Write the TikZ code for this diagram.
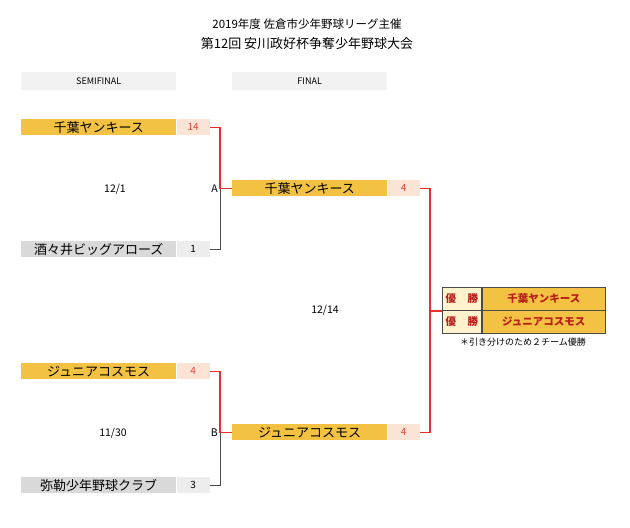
\documentclass[tikz,border=0pt]{standalone}
\usepackage{fontspec}
\setmainfont{Noto Sans CJK JP}
\usetikzlibrary{calc,positioning}
\definecolor{gold}{HTML}{F4C242}
\definecolor{ptpeach}{HTML}{FBE4D6}
\definecolor{ptred}{HTML}{E8473B}
\definecolor{losegray}{HTML}{D9D9D9}
\definecolor{ptgray}{HTML}{EDEDED}
\definecolor{headgray}{HTML}{F2F2F2}
\definecolor{cream}{HTML}{FFF2CC}
\definecolor{winred}{HTML}{B81D18}
\definecolor{linered}{HTML}{E8302A}
\definecolor{linegray}{HTML}{4A4A4A}

\begin{document}
\begin{tikzpicture}[x=1pt,y=-1pt,
    teambox/.style={fill=gold,inner sep=0pt,minimum width=155pt,minimum height=16pt,anchor=north west,font=\fontsize{13}{13}\selectfont},
    losebox/.style={teambox,fill=losegray},
    ptbox/.style={fill=ptpeach,text=ptred,inner sep=0pt,minimum width=33pt,minimum height=16pt,font=\fontsize{10}{10}\selectfont},
    losept/.style={ptbox,fill=ptgray,text=black},
    headbox/.style={fill=headgray,inner sep=0pt,minimum width=155pt,minimum height=18pt,anchor=north west,font=\fontsize{9}{9}\selectfont},
    cell/.style={draw=linegray,line width=0.9pt,inner sep=0pt,minimum height=23pt,anchor=north west,text=winred,font=\bfseries\fontsize{10.5}{11}\selectfont},
    lbl/.style={inner sep=2pt,font=\fontsize{10.5}{11}\selectfont},
    win/.style={draw=linered,line width=1.3pt},
    lose/.style={draw=linegray,line width=1pt}]
    \useasboundingbox (0,0) rectangle (630,528);
    % title
    \node[font=\fontsize{11.5}{12}\selectfont] (title1) at (307,24) {2019年度 佐倉市少年野球リーグ主催};
    \node[font=\fontsize{13}{14}\selectfont] (title2) at (307,44) {第12回 安川政好杯争奪少年野球大会};
    \node[headbox] (hsemi) at (21,72) {SEMIFINAL};
    \node[headbox] (hfinal) at (232,72) {FINAL};
    % semifinal
    \node[teambox] (t1) at (21,119) {千葉ヤンキース};
    \node[ptbox,right=0pt of t1] (p1) {14};
    \node[losebox] (t2) at (21,241) {酒々井ビッグアローズ};
    \node[losept,right=0pt of t2] (p2) {1};
    \node[teambox] (t3) at (21,363) {ジュニアコスモス};
    \node[ptbox,right=0pt of t3] (p3) {4};
    \node[losebox] (t4) at (21,477) {弥勒少年野球クラブ};
    \node[losept,right=0pt of t4] (p4) {3};
    % final
    \node[teambox] (f1) at (232,180) {千葉ヤンキース};
    \node[ptbox,right=0pt of f1,minimum width=32pt] (q1) {4};
    \node[teambox] (f2) at (232,424) {ジュニアコスモス};
    \node[ptbox,right=0pt of f2,minimum width=32pt] (q2) {4};
    % champions
    \node[cell,fill=cream,minimum width=39pt] (c1l) at (442,287) {優\hspace{1.1em}勝};
    \node[cell,fill=gold,minimum width=123pt,right=0pt of c1l] (c1r) {千葉ヤンキース};
    \node[cell,fill=cream,minimum width=39pt] (c2l) at (442,310) {優\hspace{1.1em}勝};
    \node[cell,fill=gold,minimum width=123pt,right=0pt of c2l] (c2r) {ジュニアコスモス};
    \node[font=\fontsize{9}{9}\selectfont] (note) at (523,342) {＊引き分けのため２チーム優勝};
    % dates
    \node[lbl] (d1) at (115,189) {12/1};
    \node[lbl] (d2) at (113,433) {11/30};
    \node[lbl] (d3) at (325,310) {12/14};
    % lines
    \coordinate (jA) at ($(f1.west)+(-12,0)$);
    \coordinate (jB) at ($(f2.west)+(-12,0)$);
    \coordinate (jF) at ($(c1l.south west)+(-12,0)$);
    \node[lbl,left=0pt of jA] (la) {A};
    \node[lbl,left=0pt of jB] (lb) {B};
    \draw[lose] (p2.east) -| (jA);
    \draw[win] (p1.east) -| (jA) -- (f1.west);
    \draw[lose] (p4.east) -| (jB);
    \draw[win] (p3.east) -| (jB) -- (f2.west);
    \draw[win] (q1.east) -| (jF) -- (c1l.south west);
    \draw[win] (q2.east) -| (jF);
\end{tikzpicture}
\end{document}
